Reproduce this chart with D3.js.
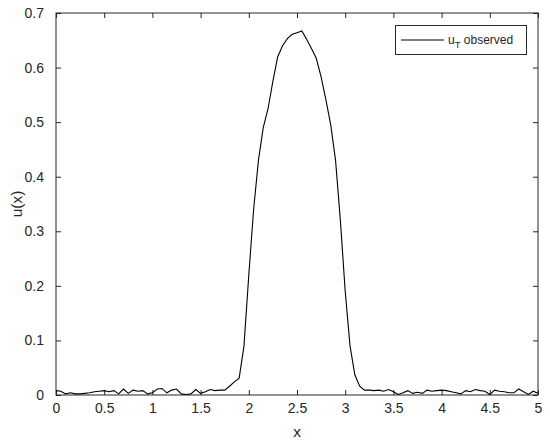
<!DOCTYPE html>
<html><head><meta charset="utf-8">
<script src="https://cdn.jsdelivr.net/npm/d3@7"></script>
<style>body{margin:0;background:#fff}svg{display:block}text{font-family:"Liberation Sans",Arial,Helvetica,sans-serif;fill:#262626}</style>
</head><body>
<script>
const xStep = 0.05;
const uValues = [
0.008,0.007,0.002,0.004,0.002,0.002,0.003,0.004,0.006,0.007,
0.008,0.006,0.008,0.002,0.011,0.003,0.009,0.007,0.008,0.002,
0.004,0.011,0.012,0.004,0.009,0.011,0.002,0.001,0.002,0.010,
0.003,0.006,0.010,0.008,0.009,0.009,0.016,0.024,0.031,0.090,
0.220,0.340,0.430,0.490,0.525,0.575,0.620,0.640,0.653,0.661,
0.664,0.667,0.652,0.635,0.617,0.583,0.541,0.495,0.430,0.320,
0.190,0.090,0.037,0.016,0.009,0.009,0.008,0.009,0.007,0.010,
0.006,0.001,0.004,0.008,0.003,0.005,0.003,0.009,0.007,0.008,
0.009,0.008,0.006,0.004,0.002,0.008,0.006,0.010,0.008,0.007,
0.001,0.009,0.007,0.006,0.004,0.004,0.011,0.006,0.001,0.007,
0.003];
const xTicks = [0,0.5,1,1.5,2,2.5,3,3.5,4,4.5,5];
const yTicks = [0,0.1,0.2,0.3,0.4,0.5,0.6,0.7];
const legendLabel = {main:"u", sub:"T", rest:" observed"};

const W=550,H=444;
const L=56,R=538,T=13,B=395;
const svg=d3.select("body").append("svg").attr("width",W).attr("height",H);
const x=d3.scaleLinear().domain([0,5]).range([L,R]);
const y=d3.scaleLinear().domain([0,0.7]).range([B,T]);
const data=uValues.map((v,i)=>[i*xStep,v]);

const tl=5;
function styleAxis(g){g.select(".domain").remove();g.selectAll(".tick line").attr("stroke","#262626");g.selectAll("text").style("font-size","14px").attr("fill","#262626");}
svg.append("g").attr("transform",`translate(0,${B})`)
 .call(d3.axisBottom(x).tickValues(xTicks).tickSize(-tl).tickPadding(14).tickFormat(d3.format("~g")))
 .call(styleAxis).call(g=>g.selectAll("text").attr("dy","0.3em"));
svg.append("g").attr("transform",`translate(0,${T})`)
 .call(d3.axisTop(x).tickValues(xTicks).tickSize(-tl).tickFormat(""))
 .call(styleAxis);
svg.append("g").attr("transform",`translate(${L},0)`)
 .call(d3.axisLeft(y).tickValues(yTicks).tickSize(-tl).tickPadding(12).tickFormat(d3.format("~g")))
 .call(styleAxis);
svg.append("g").attr("transform",`translate(${R},0)`)
 .call(d3.axisRight(y).tickValues(yTicks).tickSize(-tl).tickFormat(""))
 .call(styleAxis);
svg.append("rect").attr("x",L).attr("y",T).attr("width",R-L).attr("height",B-T)
 .attr("fill","none").attr("stroke","#262626").attr("stroke-width",1);

svg.append("path").datum(data).attr("fill","none").attr("stroke","#000").attr("stroke-width",1.1)
 .attr("d",d3.line().x(d=>x(d[0])).y(d=>y(d[1])));

svg.append("text").attr("x",(L+R)/2).attr("y",437).attr("text-anchor","middle").style("font-size","15.4px").text("x");
svg.append("text").attr("transform",`translate(22,${(T+B)/2}) rotate(-90)`).attr("text-anchor","middle").style("font-size","15.4px").text("u(x)");

const lg=svg.append("g");
lg.append("rect").attr("x",395.5).attr("y",25.5).attr("width",131).attr("height",29).attr("fill","#fff").attr("stroke","#262626").attr("stroke-width",1);
lg.append("line").attr("x1",401).attr("x2",444).attr("y1",40).attr("y2",40).attr("stroke","#000").attr("stroke-width",1.1);
const lt=lg.append("text").attr("x",448).attr("y",43.5).style("font-size","12px");
lt.append("tspan").text(legendLabel.main);
lt.append("tspan").attr("dy",4).style("font-size","9.5px").text(legendLabel.sub);
lt.append("tspan").attr("dy",-4).text(legendLabel.rest);
</script>
</body></html>
